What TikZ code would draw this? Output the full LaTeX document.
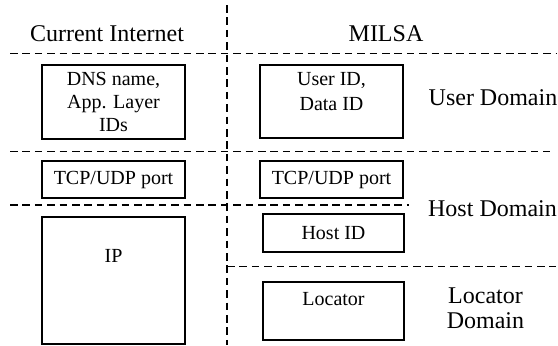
\documentclass[tikz,border=0pt]{standalone}
\usepackage{fontspec}
\setmainfont{Liberation Serif}
\usetikzlibrary{positioning}
\begin{document}
\begin{tikzpicture}
[x=0.5pt,y=-0.5pt,
layer box/.style={draw,line width=0.85pt,inner sep=0pt,align=center,font=\fontsize{10}{11.5}\selectfont},
box text/.style={inner sep=0pt,align=center,font=\fontsize{10}{12.5}\selectfont},
domain text/.style={align=center,font=\fontsize{12}{12.5}\selectfont},
divider/.style={line width=0.8pt,dash pattern=on 3.8pt off 2.4pt}]
\useasboundingbox (0,0) rectangle (558,345);
\draw[divider] (227,5) -- (227,345);
\draw[divider] (10,53.5) -- (556,53.5);
\draw[divider] (10,151.5) -- (550,151.5);
\draw[divider] (10,205) -- (409,205);
\draw[divider] (227,266.5) -- (556,266.5);
\node[domain text] (current) at (107,34) {Current Internet};
\node[domain text] (milsa) at (386,34) {MILSA};
\node[layer box,minimum width=71.5pt,minimum height=37pt] (dns) at (113.5,102) {DNS name,\\App. Layer\\IDs};
\node[layer box,minimum width=71.5pt,minimum height=36.5pt] (userid) at (331.5,101.5) {};
\node[box text,below=4pt of userid.north] (useridtext) {User ID,\\Data ID};
\node[domain text] (userdomain) at (493,98) {User Domain};
\node[layer box,minimum width=71.5pt,minimum height=18.75pt] (tcpleft) at (113.5,179.5) {TCP/UDP port};
\node[layer box,minimum width=71.5pt,minimum height=18.75pt] (tcpright) at (331.5,179.5) {TCP/UDP port};
\node[layer box,minimum width=70.5pt,minimum height=19pt] (hostid) at (333.5,233) {Host ID};
\node[domain text] (hostdomain) at (492.5,208.5) {Host Domain};
\node[layer box,minimum width=71.5pt,minimum height=63.5pt] (ip) at (113.5,280.5) {};
\node[box text,below=16.5pt of ip.north] (iptext) {IP};
\node[layer box,minimum width=70.5pt,minimum height=29pt] (locator) at (333.5,311) {};
\node[box text,below=5.5pt of locator.north] (locatortext) {Locator};
\node[domain text] (locatordomain) at (485.5,308.5) {Locator\\Domain};
\end{tikzpicture}
\end{document}
